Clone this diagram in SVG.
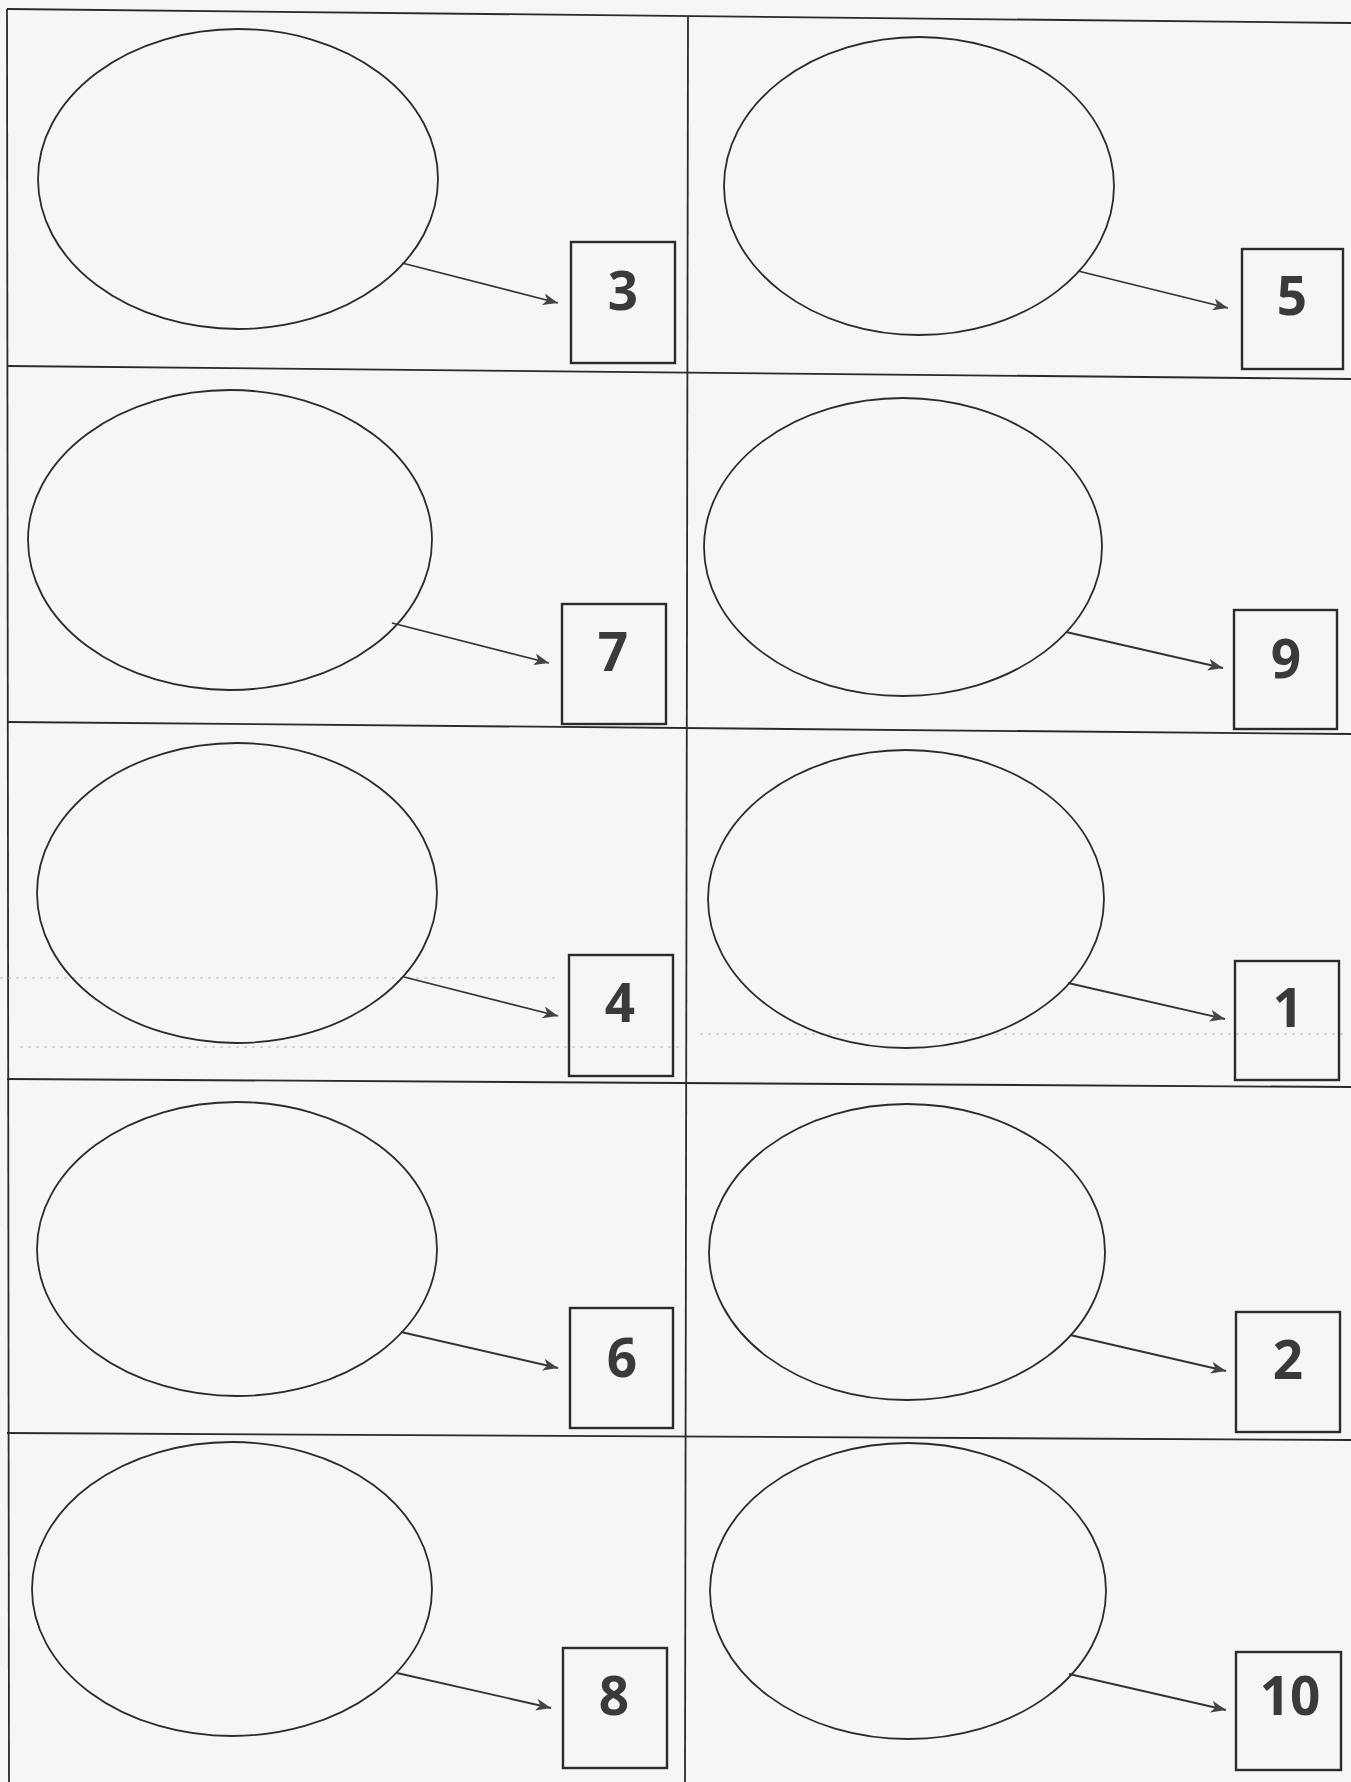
<svg xmlns="http://www.w3.org/2000/svg" width="1351" height="1782" viewBox="0 0 1351 1782">
<defs>
<style>
.grid{stroke:#2a2a2a;stroke-width:1.8;fill:none}
.ell{fill:none;stroke:#2b2b2b;stroke-width:1.8}
.box{fill:none;stroke:#2b2b2b;stroke-width:2.4}
.num{font-family:"Open Sans","Liberation Sans",sans-serif;font-weight:bold;font-size:53px;fill:#3a3a3a;text-anchor:middle}
.arr{stroke:#333;stroke-width:1.8;fill:none;marker-end:url(#ah)}
.noise{stroke:#b8b8b8;stroke-width:1.2;stroke-dasharray:3 5;fill:none}
</style>
<marker id="ah" viewBox="0 0 15 12" refX="15" refY="6" markerWidth="15" markerHeight="12" markerUnits="userSpaceOnUse" orient="auto">
<path d="M0,0 L15,6 L0,12 L4,6 Z" fill="#444"/>
</marker>
</defs>
<rect width="1351" height="1782" fill="#f6f6f4"/>
<g id="grid">
<line class="grid" x1="7" y1="9" x2="1351" y2="23"/>
<line class="grid" x1="7" y1="366" x2="1351" y2="379"/>
<line class="grid" x1="7" y1="722" x2="1351" y2="734"/>
<line class="grid" x1="7" y1="1079" x2="1351" y2="1087"/>
<line class="grid" x1="7" y1="1433" x2="1351" y2="1440"/>
<line class="grid" x1="7" y1="9" x2="9" y2="1782"/>
<line class="grid" x1="688" y1="16" x2="685" y2="1782"/>
<line class="noise" x1="0" y1="978" x2="560" y2="978"/>
<line class="noise" x1="20" y1="1047" x2="680" y2="1047"/>
<line class="noise" x1="700" y1="1034" x2="1345" y2="1034"/>
</g>
<g id="cell-3">
<ellipse class="ell" cx="238" cy="179" rx="200" ry="150"/>
<rect class="box" x="571" y="242" width="104" height="121"/>
<text class="num" x="623" y="310">3</text>
</g>
<g id="cell-5">
<ellipse class="ell" cx="919" cy="186" rx="195" ry="149"/>
<rect class="box" x="1242" y="249" width="101" height="120"/>
<text class="num" x="1292" y="315">5</text>
</g>
<g id="cell-7">
<ellipse class="ell" cx="230" cy="540" rx="202" ry="150"/>
<rect class="box" x="562" y="604" width="104" height="120"/>
<text class="num" x="613" y="671">7</text>
</g>
<g id="cell-9">
<ellipse class="ell" cx="903" cy="547" rx="199" ry="149"/>
<rect class="box" x="1234" y="610" width="103" height="119"/>
<text class="num" x="1286" y="678">9</text>
</g>
<g id="cell-4">
<ellipse class="ell" cx="237" cy="893" rx="200" ry="150"/>
<rect class="box" x="569" y="955" width="104" height="121"/>
<text class="num" x="620" y="1022">4</text>
</g>
<g id="cell-1">
<ellipse class="ell" cx="906" cy="899" rx="198" ry="149"/>
<rect class="box" x="1235" y="961" width="104" height="119"/>
<text class="num" x="1288" y="1027">1</text>
</g>
<g id="cell-6">
<ellipse class="ell" cx="237" cy="1249" rx="200" ry="147"/>
<rect class="box" x="570" y="1308" width="103" height="120"/>
<text class="num" x="622" y="1377">6</text>
</g>
<g id="cell-2">
<ellipse class="ell" cx="907" cy="1252" rx="198" ry="148"/>
<rect class="box" x="1236" y="1312" width="104" height="120"/>
<text class="num" x="1288" y="1379">2</text>
</g>
<g id="cell-8">
<ellipse class="ell" cx="232" cy="1589" rx="200" ry="147"/>
<rect class="box" x="563" y="1648" width="104" height="120"/>
<text class="num" x="614" y="1715">8</text>
</g>
<g id="cell-10">
<ellipse class="ell" cx="908" cy="1591" rx="198" ry="148"/>
<rect class="box" x="1236" y="1652" width="105" height="118"/>
<text class="num" x="1290" y="1715">10</text>
</g>
<g id="connectors">
<line class="arr" x1="402" y1="263" x2="558" y2="303"/>
<line class="arr" x1="1078" y1="271" x2="1228" y2="308"/>
<line class="arr" x1="392" y1="623" x2="549" y2="663"/>
<line class="arr" x1="1066" y1="632" x2="1223" y2="668"/>
<line class="arr" x1="404" y1="977" x2="558" y2="1016"/>
<line class="arr" x1="1068" y1="983" x2="1225" y2="1019"/>
<line class="arr" x1="401" y1="1332" x2="558" y2="1368"/>
<line class="arr" x1="1070" y1="1335" x2="1226" y2="1371"/>
<line class="arr" x1="397" y1="1673" x2="551" y2="1708"/>
<line class="arr" x1="1069" y1="1674" x2="1226" y2="1710"/>
</g>
</svg>
